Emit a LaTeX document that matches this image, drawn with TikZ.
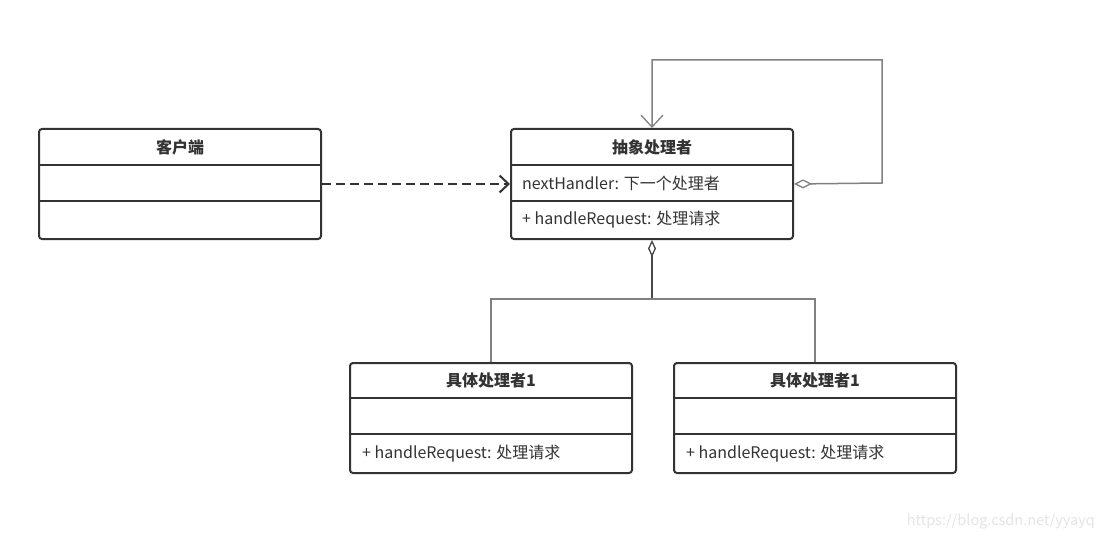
\documentclass[tikz,border=0pt]{standalone}
\usepackage{fontspec}
\setmainfont{Noto Sans CJK SC}
\usetikzlibrary{arrows.meta,calc}
\definecolor{boxline}{HTML}{333333}
\definecolor{conline}{HTML}{808080}
\definecolor{txt}{HTML}{333333}
\begin{document}
\begin{tikzpicture}[x=1pt,y=-1pt,
  umlbox/.style={draw=boxline,line width=2pt,rounded corners=3pt,minimum width=282pt,minimum height=110pt,inner sep=0pt,anchor=north west},
  divider/.style={draw=boxline,line width=2pt},
  title/.style={font=\fontsize{16}{18}\selectfont\bfseries,text=txt,inner sep=0pt},
  member/.style={font=\fontsize{16}{18}\selectfont,text=txt,inner sep=0pt,anchor=west},
  dep/.style={draw=boxline,line width=2pt,dash pattern=on 9pt off 5pt,-{Straight Barb[length=9pt,width=17pt,line width=2pt]}},
  agg/.style={draw=conline,line width=1.5pt},
  wm/.style={font=\fontsize{14.5}{16}\selectfont,text=black!10,inner sep=0pt,anchor=east}
]
\useasboundingbox (0,0) rectangle (1102,540);
\fill[white] (0,0) rectangle (1102,540);

% boxes
\node[umlbox] (client) at (38,128) {};
\node[umlbox] (abs) at (510,128) {};
\node[umlbox] (c1) at (349,362) {};
\node[umlbox] (c2) at (673,362) {};

% dividers
\foreach \b/\y in {client/165,client/201,abs/165,abs/201,c1/398,c1/434,c2/398,c2/434}{
  \draw[divider] (\b.west |- 0,\y) -- (\b.east |- 0,\y);
}

% texts
\node[title] (clientT) at ($(client.north)+(0,19)$) {客户端};
\node[title] (absT) at ($(abs.north)+(0,19)$) {抽象处理者};
\node[member] (absA) at (522,183) {nextHandler: 下一个处理者};
\node[member] (absM) at (522,220) {+ handleRequest: 处理请求};
\node[title] (c1T) at ($(c1.north)+(0,18)$) {具体处理者1};
\node[member] (c1M) at (362,454) {+ handleRequest: 处理请求};
\node[title] (c2T) at ($(c2.north)+(0,18)$) {具体处理者1};
\node[member] (c2M) at (686,454) {+ handleRequest: 处理请求};

% dependency
\draw[dep] (client.east) -- (abs.west);

% self aggregation
\coordinate (loopA) at (882,183);
\coordinate (loopB) at (882,60);
\coordinate (loopC) at (abs.north |- 0,60);
\draw[agg,{Diamond[open,length=18pt,width=9pt,line width=1.3pt]}-{Straight Barb[length=12pt,width=22pt,line width=1.3pt]}]
  (abs.east) -- (loopA) -- (loopB) -- (loopC) -- (abs.north);

% aggregation to concrete handlers
\coordinate (junc) at (abs.south |- 0,299);
\draw[draw=boxline!90,line width=1.8pt,{Diamond[open,length=17pt,width=8pt,line width=1.3pt]}-] (abs.south) -- (junc);
\draw[agg] (c1.north) |- (junc) -| (c2.north);

% watermark
\node[wm] (wmark) at (1095,522) {https://blog.csdn.net/yyayq};
\end{tikzpicture}
\end{document}
